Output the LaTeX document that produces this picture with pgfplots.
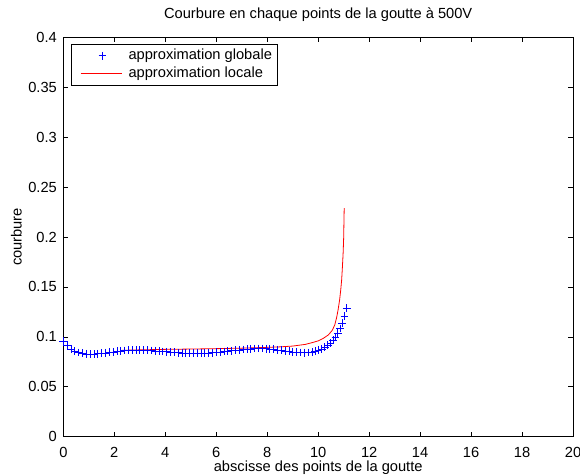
\documentclass[border=0pt]{standalone}
\usepackage{fontspec}
\setmainfont{Liberation Sans}
\usepackage{pgfplots}
\pgfplotsset{compat=1.18}
\pgfplotsset{
  blueleg/.style={legend image code/.code={\path (0pt,0pt) (38pt,0pt); \draw[##1] plot coordinates {(23pt,0pt)};}},
  redleg/.style={legend image code/.code={\path (0pt,0pt) (38pt,0pt); \draw[##1] (6.75pt,0pt) -- (38pt,0pt);}},
}
\begin{document}
\begin{tikzpicture}[font=\fontsize{11}{13}\selectfont]
\begin{axis}[
  name=ax,
  scale only axis,
  width=382.3pt, height=299.6pt,
  xmin=0, xmax=20, ymin=0, ymax=0.4,
  xtick={0,2,4,6,8,10,12,14,16,18,20},
  ytick={0,0.05,0.1,0.15,0.2,0.25,0.3,0.35,0.4},
  /pgf/number format/assume math mode=true,
  yticklabel style={/pgf/number format/fixed,/pgf/number format/precision=2,xshift=-1.3pt},
  xticklabel style={yshift=-4.3pt},
  tick align=inside,
  major tick length=3.75pt,
  every tick/.style={black,line width=0.5pt},
  axis line style={line width=0.6pt},
  title={Courbure en chaque points de la goutte à 500V},
  title style={at={(axis description cs:0.5,1)},anchor=base,yshift=7.9pt,inner sep=0pt},
  xlabel={abscisse des points de la goutte},
  xlabel style={at={(axis description cs:0.5,0)},anchor=base,yshift=-25.7pt,inner sep=0pt},
  ylabel={courbure},
  ylabel style={at={(axis description cs:-0.0816,0.5)},anchor=base,inner sep=0pt},
  legend cell align=left,
  legend style={at={(0.015,0.984)},anchor=north west,draw=black,line width=0.5pt,
    inner xsep=0pt,inner ysep=2.2pt,row sep=0pt,
    nodes={inner xsep=4.3pt,inner ysep=1.45pt,text height=8pt,text depth=2.3pt,line width=0.5pt}},
]
\addplot[only marks,mark=+,mark size=2.9pt,blue,line width=0.5pt,blueleg]
coordinates {
(0,0.0958)(0.15,0.0915)(0.3,0.0880)(0.45,0.0858)(0.6,0.0843)(0.75,0.0835)
(0.9,0.0830)(1.05,0.0828)(1.2,0.0829)(1.35,0.0832)(1.5,0.0836)(1.65,0.0840)
(1.8,0.0845)(1.95,0.0850)(2.1,0.0855)(2.25,0.0860)(2.4,0.0863)(2.55,0.0866)
(2.7,0.0868)(2.85,0.0869)(3.0,0.0869)(3.15,0.0868)(3.3,0.0866)(3.45,0.0863)
(3.6,0.0860)(3.75,0.0857)(3.9,0.0854)(4.05,0.0851)(4.2,0.0848)(4.35,0.0845)
(4.5,0.0842)(4.65,0.0840)(4.8,0.0838)(4.95,0.0837)(5.1,0.0836)(5.25,0.0836)
(5.4,0.0837)(5.55,0.0838)(5.7,0.0840)(5.85,0.0842)(6.0,0.0846)(6.15,0.0850)
(6.3,0.0854)(6.45,0.0858)(6.6,0.0862)(6.75,0.0866)(6.9,0.0870)(7.05,0.0874)
(7.2,0.0877)(7.35,0.0880)(7.5,0.0883)(7.65,0.0884)(7.8,0.0884)(7.95,0.0882)
(8.1,0.0879)(8.25,0.0875)(8.4,0.0870)(8.55,0.0865)(8.7,0.0860)(8.85,0.0855)
(9.0,0.0850)(9.15,0.0846)(9.3,0.0843)(9.45,0.0842)(9.6,0.0844)(9.75,0.0848)
(9.88,0.0856)(10.01,0.0866)(10.14,0.0880)(10.26,0.0896)(10.37,0.0915)
(10.48,0.0937)(10.58,0.0965)(10.68,0.1000)(10.77,0.1040)(10.86,0.1085)
(10.94,0.1140)(11.03,0.1210)(11.12,0.1290)
};
\addlegendentry{approximation globale}
\addplot[red,line width=0.6pt,redleg]
coordinates {
(2.3,0.0865)(3,0.0870)(4,0.0875)(5,0.0878)(6,0.0882)(7,0.0887)(8,0.0895)
(8.5,0.0900)(9,0.0908)(9.5,0.0925)(9.8,0.0945)(10.0,0.0960)(10.2,0.0985)
(10.4,0.1020)(10.55,0.1065)(10.65,0.1120)(10.72,0.1190)(10.78,0.1270)
(10.84,0.1370)(10.88,0.1460)(10.92,0.1570)(10.95,0.1700)(10.98,0.1850)
(11.0,0.2000)(11.01,0.2150)(11.02,0.2290)
};
\addlegendentry{approximation locale}
\end{axis}
\pgfresetboundingbox
\path (ax.south west) ++(-47.5pt,-28.7pt) rectangle ++(435pt,356.25pt);
\end{tikzpicture}
\end{document}
